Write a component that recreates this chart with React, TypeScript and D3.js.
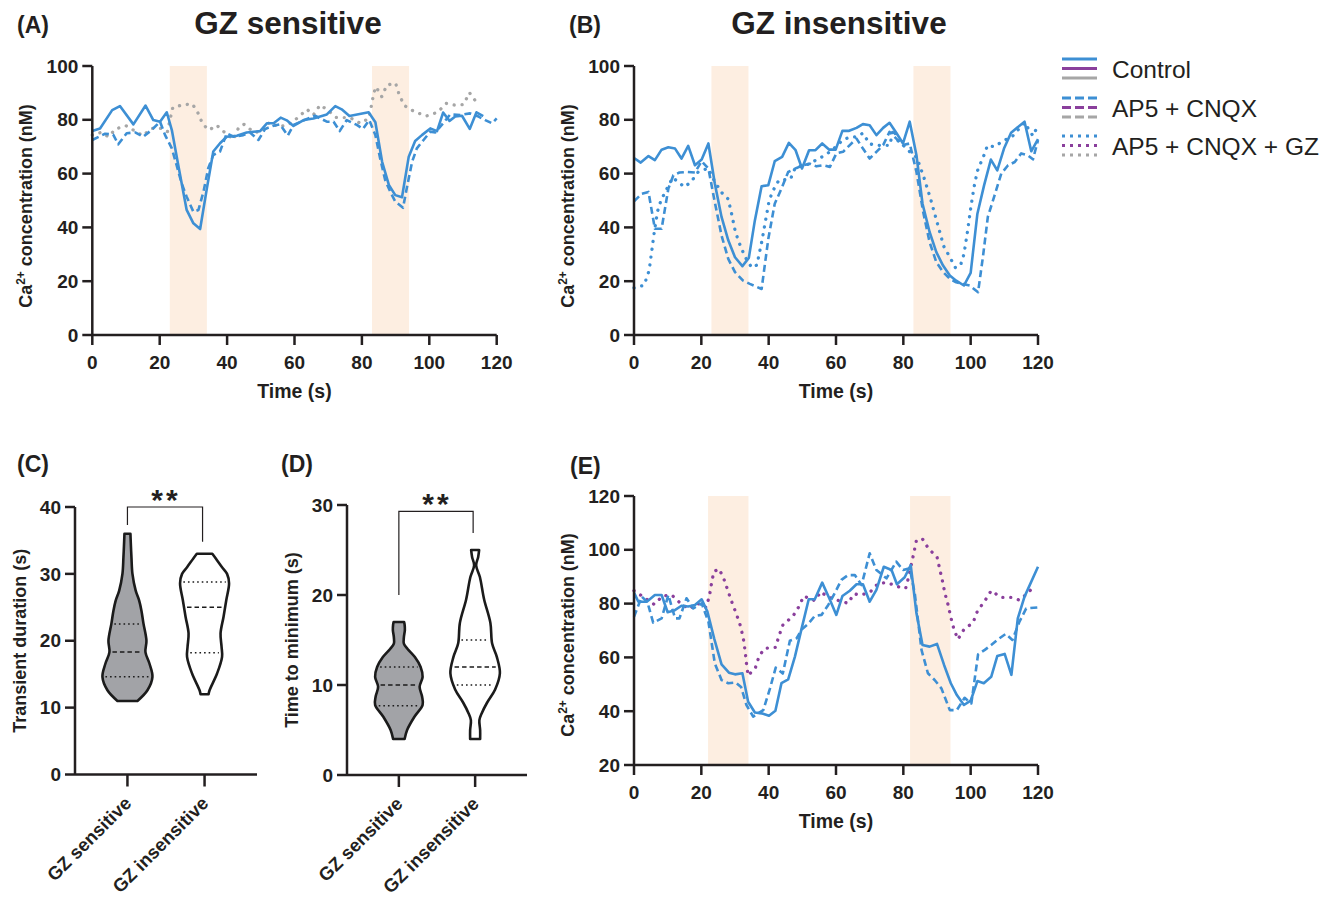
import React from 'react';
import * as d3 from 'd3';

type P = [number, number];

// ---------------- DATA ----------------
const timeTicks = [0, 20, 40, 60, 80, 100, 120];
const caTicksAB = [0, 20, 40, 60, 80, 100];
const caTicksE = [20, 40, 60, 80, 100, 120];
const stimAB: P[] = [[23, 34], [83, 94]];
const stimE: P[] = [[22, 34], [82, 94]];

const aControl: P[] = [[0,75.8],[2.3,76.8],[5.9,83.6],[8.2,85.1],[12.2,78.3],[15.8,85.3],[18.1,79.9],[20.1,79.3],[22.1,82.8],[23.6,76.2],[25.5,63.2],[28,46.5],[30,41.5],[32,39.4],[34,54.5],[35.9,68.2],[37.9,71.3],[39.9,73.7],[42.9,74.1],[45.8,75.3],[49.8,75.8],[51.8,78.7],[53.8,78.7],[55.9,80.8],[57.7,79.8],[59.7,77.7],[62.7,79.9],[65.6,80.5],[69.6,82],[72.1,85.1],[74,83.9],[76.3,81.4],[82,82.8],[84,79.1],[86,64.4],[88,55.8],[89.9,52],[91.9,51.2],[93.9,66.3],[95.8,72.1],[97.8,74.3],[100.3,76.8],[102.3,75.8],[104.1,82.7],[106,79.6],[107.7,81.2],[109.7,81.5],[112,76.6],[114,82.8],[116,81.4]];
const aAp5: P[] = [[0,72.5],[3.8,74.8],[6.2,74.5],[7.7,70.9],[10.2,75],[12.7,75.3],[15.1,73.7],[17.6,76.2],[20.1,79.3],[21.6,74.3],[23.6,69.4],[25,63.2],[26.5,56.4],[28,51.4],[30,45.8],[31.5,46.5],[33,53.3],[34.4,62],[35.9,66.9],[37.9,68.2],[39.9,75],[41.9,73.7],[44.8,74.3],[46.8,75.3],[49.3,72.5],[51.3,76.6],[53.8,77.8],[55.7,78.3],[58,74.1],[59.7,78.1],[63.7,80.3],[66.1,81.5],[69.6,79.3],[71.6,79.3],[73.4,75.8],[75.5,79.9],[78.5,78.1],[80.3,76.6],[82.2,79.9],[84,74.3],[85.4,65.7],[86.9,57.6],[88.4,53.3],[89.9,49.6],[92.2,47.3],[93.4,55.1],[94.9,64.4],[96.3,69.4],[98.3,72.5],[100.3,75.6],[101.8,75.3],[103.7,78.1],[106.2,82],[109.2,81.8],[112.1,82.4],[114.6,81.2],[116.6,79.9],[118.6,78.7],[120,80.5]];
const aGz: P[] = [[0,74.3],[2.6,75.3],[4.8,73.7],[6.9,76.6],[10,77.8],[12.7,75.8],[15,74.1],[17.6,76.8],[20.6,76.8],[22.3,75.6],[23.1,80.3],[23.9,84.6],[26.7,85.5],[29.7,85.9],[31.3,82.7],[32.8,78.3],[34.7,76.2],[36.9,78],[39.9,74.6],[42,72.7],[43.4,77.1],[45,78.3],[48,75.3],[50.3,75.6],[52.6,79.1],[55.2,77.4],[58.2,78.1],[61,80.8],[63.7,83.9],[65.6,81.8],[67.6,85.5],[70.1,83.4],[72.3,80.9],[76.5,80.8],[79.5,78.7],[82,80.5],[82.8,85.1],[83.5,89.8],[84.2,92.3],[85.9,88.6],[87.4,92.9],[90,93.6],[91.1,89.2],[92.6,85.3],[95.6,83],[99.1,81.4],[102.5,82.8],[105,86.1],[107.4,85.5],[110.2,85.7],[111.9,90.1],[114,86.5]];

const bControl: P[] = [[0,65.8],[2,64.1],[4.3,66.5],[6.2,65],[8.2,68.9],[10.2,69.8],[12.2,69.3],[14.1,65.6],[16.1,70.3],[18.1,63.1],[20.1,65.2],[22.1,71.2],[24,56.3],[26,43.9],[28,35.2],[30,28.9],[32.2,25.6],[34.1,28.6],[35.9,42.6],[37.9,55.3],[39.9,55.7],[41.8,64.6],[44,66.2],[46,71.4],[48,68.7],[49.9,61.9],[52,68.7],[53.9,68.7],[55.9,71.2],[58,68.9],[59.9,68.9],[61.9,75.9],[63.9,75.9],[66.1,77],[68,78.4],[70,78],[72,74.3],[74,77],[75.9,78.9],[77.9,75.2],[79.9,71.2],[81.9,79.3],[83.9,66.8],[85.7,48.8],[87.8,38.3],[89.8,30.8],[91.8,25.8],[93.8,22.1],[95.7,20.2],[98,18.4],[100,23.1],[102,45.1],[104,55.7],[106,65.2],[107.9,61.2],[109.9,69.3],[112,75.2],[116,79.3],[118,68.3],[120,72.8]];
const bAp5: P[] = [[0,49.7],[2.3,52.5],[4.3,53.2],[6.2,39.5],[8.2,39.5],[10.2,54.4],[11.7,59.4],[13.5,60.4],[15.6,60.6],[18.1,60.4],[20.1,64.6],[22.1,61.9],[24,49.4],[26,37],[28,28.3],[30,23.4],[32.4,20.2],[34.4,19],[37.9,17.1],[39.9,35.8],[41.8,48.8],[43.8,54.4],[45.8,60.6],[48.3,62.1],[50.2,63.1],[52.2,63.7],[54.2,62.7],[56.2,63.1],[58.2,62.5],[60.1,67.5],[62.1,68.1],[64.1,70.6],[66.1,73],[68,69.3],[70,65.6],[72,68.1],[74,70.6],[75.9,75.5],[77.9,73],[79.9,70.6],[81.9,71.2],[83.9,60.6],[85.9,45.7],[87.8,34.5],[89.8,27.1],[91.8,23.4],[93.8,20.9],[95.7,19.6],[97.7,19],[99.7,18.4],[102.2,15.9],[103.7,29.6],[105.1,43.9],[107.1,51.9],[109.1,60],[111.1,63.1],[113.1,64.3],[115,67.5],[117,66.8],[118.5,65.3],[120,72.4]];
const bGz: P[] = [[0,17.5],[3,18.5],[4.5,24],[6,38],[7,46],[8,50],[10,55],[11.5,58.5],[13,57],[15,55],[17,57],[19,60.5],[22,62],[24,57],[26,53],[28,50.5],[29,45],[30,39],[31,35],[33,29],[35,25],[36.5,26],[38,35],[40,49],[41,53],[43,57.5],[46.5,58],[48,62.5],[51,63],[54,65],[57,67],[60,70],[62,72.5],[64,73.5],[66,73.7],[68,75],[70,71],[73,70.5],[76,70.5],[77,76.5],[78.5,72],[80,70.5],[82,68],[84,66],[86,59],[88,51],[90,42],[92,33],[94,28.5],[95.5,25],[97,26],[98,30],[99,38],[100,47],[101,55],[102,61],[104,67],[105,70.5],[107,70],[109.5,72],[112.5,74],[116,79],[118.5,74],[120,78]];

const eControl: P[] = [[0,84.1],[1.3,80.7],[3.8,80.7],[6.2,83.2],[8.2,83.2],[10,76.8],[11.9,77.4],[14.1,79.2],[16.1,78.9],[18.1,79.5],[20.1,81.6],[21.8,77],[23.8,67.1],[26,57.4],[28.2,54.3],[30,53.7],[32.2,54.1],[33.9,43.5],[35.9,39.5],[37.9,39.2],[40.1,38.3],[42,40.2],[43.8,50.4],[45.8,51.8],[47.8,60.3],[49.8,70.8],[51.9,81.6],[53.7,81.6],[55.9,87.8],[58,82],[60.1,75.8],[61.9,82.8],[64.1,84.8],[66.1,87.2],[68,87.2],[70,80.7],[72,85.1],[74.2,93.7],[76.5,92.5],[78.1,87.2],[80.4,89.8],[82.2,94.3],[83.9,76.4],[85.7,64.6],[87.8,64],[90,65],[92.1,57.2],[94.1,50.4],[95.9,46],[98,42.3],[100,43.9],[102,51.2],[103.9,50.4],[106.1,52.8],[107.9,60.5],[110.1,61.3],[112.1,53.5],[114,74.5],[116,82.6],[120,93.7]];
const eAp5: P[] = [[0,75.1],[2.3,82.6],[4,80.5],[5.7,72.9],[8.2,74.5],[10.2,83.2],[12.2,74.5],[13.5,74.5],[15.6,82],[17.6,78.2],[20.1,80.1],[22.1,73.3],[24,57.8],[26,51.6],[28,50.4],[30.2,50.7],[31.8,49],[33.4,42.3],[35.4,38],[38.4,40.4],[40.4,48.5],[42.1,56.2],[44.2,54],[46.3,66.2],[48.3,67.1],[49.8,70.4],[51.7,72.4],[53.7,75.4],[55.7,75.8],[57.7,79.5],[59.6,83.8],[61.6,88.8],[63.6,90.6],[65.6,90.6],[67.6,86.9],[70,98.7],[72,92.5],[75,89.4],[77.9,95.6],[79.9,92.5],[81.9,93.1],[83.4,83.8],[85.4,62.8],[87.3,54.1],[89.3,51.6],[91.3,48.5],[93.8,40.4],[95.9,40.4],[98.2,45],[100.2,42.9],[102.2,61.1],[104.2,62.8],[106.1,64.6],[108.1,66.7],[110.4,68.7],[112.4,66.5],[114.5,73.3],[116.5,78.2],[120,78.6]];
const eGz: P[] = [[0,84.8],[3,82.3],[6,79.7],[8.5,82.8],[11.2,83.2],[13.8,80.1],[16.4,78],[18.8,80.1],[21.4,78.6],[22.4,82.8],[23,87.3],[23.7,91.9],[25.3,92.9],[26.8,88.8],[28,84.4],[29.2,80.1],[30.5,75.8],[31.7,71.4],[32.5,66.8],[33,62.4],[33.4,57.8],[33.9,53.2],[36.1,56.3],[37.2,60.6],[38.9,63.4],[42,63.7],[43.1,68.1],[44.3,72.3],[47.1,75.1],[49,78.9],[50.4,82.8],[53.7,81.1],[55.5,84.4],[57.4,82.6],[60.3,81.3],[63.6,80.1],[65.3,83.6],[67.6,83.2],[70.2,84.4],[72.5,87.5],[75.2,87.8],[78.4,86.3],[80.7,85.7],[81.6,90],[82.4,94.7],[83.2,99.3],[83.9,103.6],[85.7,104],[87.6,100.2],[90,97.4],[90.8,92.9],[91.6,88.5],[92.3,84.1],[93.3,79.5],[94.1,74.9],[95,70.6],[96.2,66.7],[98,70.4],[100.7,72.9],[102,77.2],[104.2,81],[106.1,84.8],[109,82.3],[112.1,82.3],[114.5,81.3],[116.9,83.8],[119,86.7]];

const categories = ['GZ sensitive', 'GZ insensitive'];
const durationTicks = [0, 10, 20, 30, 40];
const minimumTicks = [0, 10, 20, 30];
// violin profiles: [value, relative density]
const durSensProfile: P[] = [[11,0.4],[12.6,0.8],[14.6,1.0],[16.6,0.88],[18.3,0.72],[20,0.76],[22.6,0.64],[24.5,0.56],[26,0.47],[27.5,0.33],[30,0.2],[32.5,0.16],[35,0.13],[36,0.12]];
const durInsProfile: P[] = [[12,0.16],[12.6,0.2],[15.1,0.5],[17.6,0.7],[19.1,0.68],[21.1,0.64],[23.6,0.76],[26.1,0.87],[28.6,0.98],[30,0.9],[31,0.7],[32.3,0.45],[33,0.31]];
const minSensProfile: P[] = [[4,0.23],[5,0.33],[6.5,0.63],[7.8,0.95],[8.7,0.93],[9.8,0.83],[10.9,0.95],[12,0.87],[13.1,0.64],[14,0.35],[14.6,0.2],[15.3,0.2],[16.1,0.24],[16.7,0.23],[17,0.21]];
const minInsProfile: P[] = [[4,0.2],[5,0.2],[6.1,0.17],[6.9,0.27],[8,0.47],[9.5,0.8],[11.3,0.99],[13.1,0.87],[14.6,0.68],[16.9,0.61],[19.5,0.36],[22,0.19],[23.3,0.04],[24.2,0.12],[25,0.16]];
const durSensQuart = [14.6, 18.3, 22.5];
const durInsQuart = [18.2, 25, 28.8];
const minSensQuart = [7.7, 10, 12];
const minInsQuart = [10, 12, 15];
const durBracket = [40, 37.3, 34.8];
const minBracket = [29.3, 20, 26.9];
const legendLabels = ['Control', 'AP5 + CNQX', 'AP5 + CNQX + GZ'];

// ---------------- STYLE ----------------
const FONT = "'Liberation Sans', Arial, Helvetica, sans-serif";
const INK = '#231f20';
const BLUE = '#3d8fd4';
const PURPLE = '#8a3f9c';
const GRAY = '#a6a6a6';
const SHADE = '#fdeee1';
const VFILL = '#a2a3a7';

type Kind = 'solid' | 'dashed' | 'dotted';
const lineStyle = (kind: Kind) =>
  kind === 'solid' ? { strokeWidth: 2.6 } :
  kind === 'dashed' ? { strokeWidth: 2.6, strokeDasharray: '7 4' } :
  { strokeWidth: 3.3, strokeDasharray: '0.1 7.8', strokeLinecap: 'round' as const };

function LinePanel(props: { left: number; right: number; top: number; bottom: number; yDomain: [number, number]; yTicks: number[]; stim: P[]; series: { data: P[]; kind: Kind; color: string }[]; labelY: number }) {
  const { left, right, top, bottom, yDomain, yTicks, stim, series, labelY } = props;
  const x = d3.scaleLinear().domain([0, 120]).range([left, right]);
  const y = d3.scaleLinear().domain(yDomain).range([bottom, top]);
  const line = d3.line<P>().x(d => x(d[0])).y(d => y(d[1]));
  return (
    <g>
      {stim.map((s, i) => (
        <rect key={i} x={x(s[0])} y={top} width={x(s[1]) - x(s[0])} height={bottom - top} fill={SHADE} />
      ))}
      {series.map((s, i) => (
        <path key={i} d={line(s.data) || ''} fill="none" stroke={s.color} strokeLinejoin="round" {...lineStyle(s.kind)} />
      ))}
      <g stroke={INK} strokeWidth={2.5} fill="none">
        <line x1={left} x2={left} y1={top} y2={bottom} />
        <line x1={left} x2={right} y1={bottom} y2={bottom} />
        {yTicks.map(t => <line key={'y' + t} x1={left - 10} x2={left} y1={y(t)} y2={y(t)} />)}
        {timeTicks.map(t => <line key={'x' + t} x1={x(t)} x2={x(t)} y1={bottom} y2={bottom + 10} />)}
      </g>
      <g fontFamily={FONT} fontWeight="bold" fontSize={19} fill={INK}>
        {yTicks.map(t => <text key={'yl' + t} x={left - 14} y={y(t)} dy="0.35em" textAnchor="end">{t}</text>)}
        {timeTicks.map(t => <text key={'xl' + t} x={x(t)} y={bottom + 34} textAnchor="middle">{t}</text>)}
        <text x={(left + right) / 2} y={bottom + 63} textAnchor="middle" fontSize={19.5}>Time (s)</text>
        <text transform={`translate(${left - 60.5},${labelY}) rotate(-90)`} textAnchor="middle" fontSize={18}>
          <tspan>Ca</tspan><tspan dy={-7} fontSize={12}>2+</tspan><tspan dy={7}> concentration (nM)</tspan>
        </text>
      </g>
    </g>
  );
}

function ViolinPanel(props: { left: number; right: number; top: number; bottom: number; yMax: number; yTicks: number[]; profiles: P[][]; quartiles: number[][]; fills: string[]; bracket: number[]; yLabel: string }) {
  const { left, right, top, bottom, yMax, yTicks, profiles, quartiles, fills, bracket, yLabel } = props;
  const x = d3.scalePoint<string>().domain(categories).range([left, right]).padding(0.68);
  const y = d3.scaleLinear().domain([0, yMax]).range([bottom, top]);
  const W = 25;
  const cx = categories.map(c => x(c) as number);
  return (
    <g>
      {profiles.map((prof, i) => {
        const area = d3.area<P>().y(d => y(d[0])).x0(d => cx[i] - d[1] * W).x1(d => cx[i] + d[1] * W).curve(d3.curveCatmullRom.alpha(0.5));
        const hw = d3.scaleLinear().domain(prof.map(d => d[0])).range(prof.map(d => d[1] * W)).clamp(true);
        return (
          <g key={i}>
            <path d={area(prof) || ''} fill={fills[i]} stroke="#1b1b1b" strokeWidth={2.6} strokeLinejoin="round" />
            {quartiles[i].map((q, j) => (
              <line key={j} x1={cx[i] - hw(q) + 3} x2={cx[i] + hw(q) - 3} y1={y(q)} y2={y(q)} stroke="#1b1b1b"
                strokeWidth={1.5} strokeDasharray={j === 1 ? '4.5 3' : '1.6 3'} />
            ))}
          </g>
        );
      })}
      <path d={`M${cx[0]},${y(bracket[1])}V${y(bracket[0])}H${cx[1] - 2}V${y(bracket[2])}`} fill="none" stroke={INK} strokeWidth={1.2} />
      <text x={(cx[0] + cx[1]) / 2} y={y(bracket[0]) + 3} textAnchor="middle" fontFamily={FONT} fontWeight="bold" fontSize={30} letterSpacing={3} fill={INK}>**</text>
      <g stroke={INK} strokeWidth={2.5} fill="none">
        <line x1={left} x2={left} y1={top} y2={bottom} />
        <line x1={left} x2={right} y1={bottom} y2={bottom} />
        {yTicks.map(t => <line key={'y' + t} x1={left - 10} x2={left} y1={y(t)} y2={y(t)} />)}
        {cx.map((c, i) => <line key={'x' + i} x1={c} x2={c} y1={bottom} y2={bottom + 12} />)}
      </g>
      <g fontFamily={FONT} fontWeight="bold" fontSize={19} fill={INK}>
        {yTicks.map(t => <text key={'yl' + t} x={left - 14} y={y(t)} dy="0.35em" textAnchor="end">{t}</text>)}
        {categories.map((c, i) => (
          <text key={c} transform={`translate(${cx[i] + 5},${bottom + 30}) rotate(-45)`} textAnchor="end" fontSize={18.5}>{c}</text>
        ))}
        <text transform={`translate(${left - 49},${(top + bottom) / 2}) rotate(-90)`} textAnchor="middle" fontSize={18}>{yLabel}</text>
      </g>
    </g>
  );
}

function Legend() {
  const x0 = 1062, x1 = 1097;
  const bases = [78, 117, 155];
  const kinds: Kind[] = ['solid', 'dashed', 'dotted'];
  const dash = (k: Kind) => (k === 'solid' ? undefined : k === 'dashed' ? '9 4' : '3 5');
  return (
    <g>
      {legendLabels.map((lab, i) => (
        <g key={lab}>
          {[BLUE, PURPLE, GRAY].map((c, j) => (
            <line key={c} x1={x0} x2={x1} y1={bases[i] - 19 + j * 9.5} y2={bases[i] - 19 + j * 9.5} stroke={c} strokeWidth={3} strokeDasharray={dash(kinds[i])} />
          ))}
          <text x={1112} y={bases[i]} fontFamily={FONT} fontSize={24.5} fill={INK}>{lab}</text>
        </g>
      ))}
    </g>
  );
}

export default function App() {
  const bold = { fontFamily: FONT, fontWeight: 'bold' as const, fill: INK };
  return (
    <svg width={1332} height={902} style={{ position: 'absolute', left: 0, top: 0, background: '#fff' }}>
      <rect width={1332} height={902} fill="#fff" />
      <text x={17} y={33} fontSize={23} {...bold}>(A)</text>
      <text x={569} y={33} fontSize={23} {...bold}>(B)</text>
      <text x={17} y={472} fontSize={23} {...bold}>(C)</text>
      <text x={281} y={472} fontSize={23} {...bold}>(D)</text>
      <text x={570} y={474} fontSize={23} {...bold}>(E)</text>
      <text x={288} y={34} fontSize={31.5} textAnchor="middle" {...bold}>GZ sensitive</text>
      <text x={839} y={34} fontSize={31.5} textAnchor="middle" {...bold}>GZ insensitive</text>

      <LinePanel left={92.3} right={496.7} top={66} bottom={335} yDomain={[0, 100]} yTicks={caTicksAB} stim={stimAB} labelY={206}
        series={[{ data: aGz, kind: 'dotted', color: GRAY }, { data: aAp5, kind: 'dashed', color: BLUE }, { data: aControl, kind: 'solid', color: BLUE }]} />
      <LinePanel left={634} right={1038} top={66} bottom={335} yDomain={[0, 100]} yTicks={caTicksAB} stim={stimAB} labelY={206}
        series={[{ data: bGz, kind: 'dotted', color: BLUE }, { data: bAp5, kind: 'dashed', color: BLUE }, { data: bControl, kind: 'solid', color: BLUE }]} />
      <LinePanel left={634} right={1038} top={496} bottom={765} yDomain={[20, 120]} yTicks={caTicksE} stim={stimE} labelY={635}
        series={[{ data: eGz, kind: 'dotted', color: PURPLE }, { data: eAp5, kind: 'dashed', color: BLUE }, { data: eControl, kind: 'solid', color: BLUE }]} />

      <ViolinPanel left={75} right={257} top={507} bottom={774.5} yMax={40} yTicks={durationTicks}
        profiles={[durSensProfile, durInsProfile]} quartiles={[durSensQuart, durInsQuart]} fills={[VFILL, '#fff']} bracket={durBracket} yLabel="Transient duration (s)" />
      <ViolinPanel left={347} right={527} top={505} bottom={775} yMax={30} yTicks={minimumTicks}
        profiles={[minSensProfile, minInsProfile]} quartiles={[minSensQuart, minInsQuart]} fills={[VFILL, '#fff']} bracket={minBracket} yLabel="Time to minimum (s)" />
      <Legend />
    </svg>
  );
}
